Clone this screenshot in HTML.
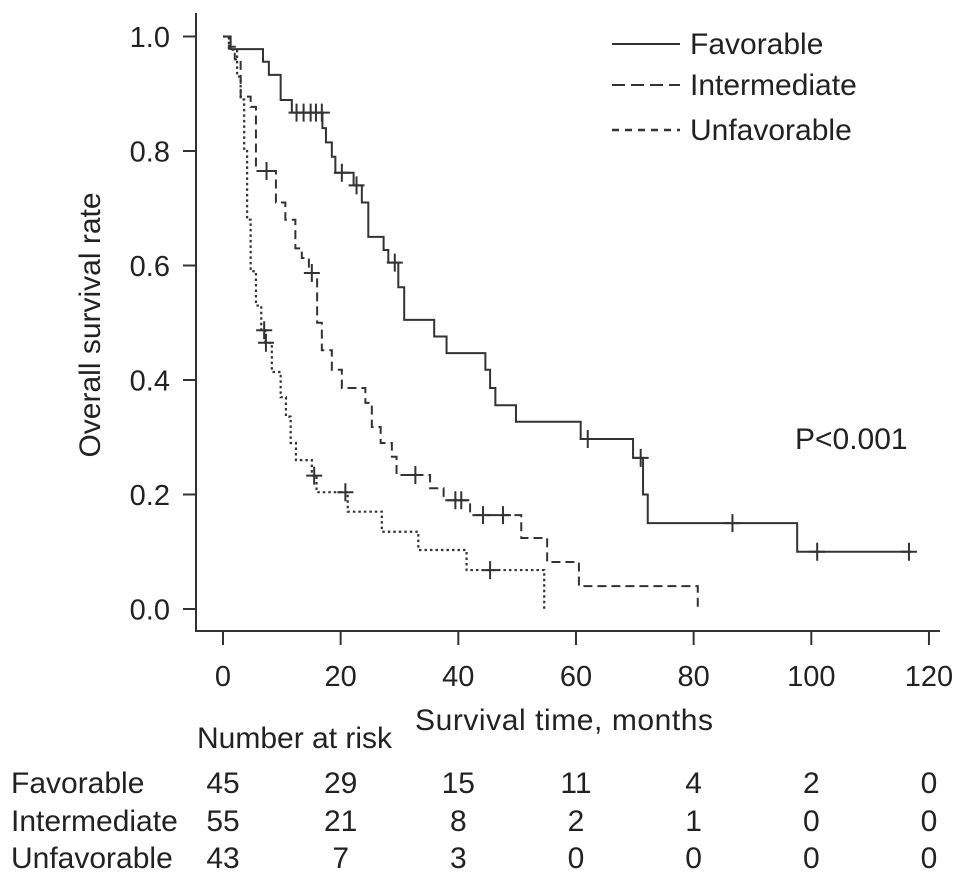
<!DOCTYPE html>
<html><head><meta charset="utf-8"><style>
body{margin:0;background:#fff}
svg{display:block;font-family:"Liberation Sans",Arial,sans-serif;fill:#222}
</style></head><body>
<svg id="chart" width="969" height="884" viewBox="0 0 969 884">
<g id="axes" stroke="#333" stroke-width="2" fill="none"></g>
<g id="labels"></g>
<g id="curves" fill="none"></g>
<g id="legend">
 <line x1="612" y1="44" x2="680" y2="44" stroke="#333" stroke-width="2"/>
 <text x="690" y="54" font-size="30">Favorable</text>
 <line x1="612" y1="85" x2="680" y2="85" stroke="#333" stroke-width="2" stroke-dasharray="13,6"/>
 <text x="690" y="95" font-size="30">Intermediate</text>
 <line x1="612" y1="130" x2="680" y2="130" stroke="#333" stroke-width="2.5" stroke-dasharray="7,6"/>
 <text x="690" y="140" font-size="30">Unfavorable</text>
</g>
<text x="795" y="449" font-size="30">P&lt;0.001</text>
<text x="100" y="325" font-size="30" text-anchor="middle" transform="rotate(-90 100 325)">Overall survival rate</text>
<text x="564" y="730" font-size="30" text-anchor="middle" textLength="298">Survival time, months</text>
<text x="197" y="748" font-size="30">Number at risk</text>
<g id="risk"></g>
</svg>
<script>
const xTicks=[0,20,40,60,80,100,120];
const yTicks=[0,0.2,0.4,0.6,0.8,1.0];
const favT=[1.3,6.8,7.8,9.8,11.7,16.9,17.5,18.5,19.1,22.2,23.6,24.7,27.3,28.1,29.8,30.8,35.9,38,44.6,45.4,46.3,49.8,60.8,69.7,71.4,72.2,97.6];
const favS=[0.978,0.956,0.933,0.889,0.867,0.84,0.815,0.79,0.762,0.74,0.71,0.65,0.627,0.605,0.562,0.505,0.476,0.447,0.418,0.386,0.356,0.327,0.297,0.264,0.2,0.15,0.10];
const favEnd=117;
const favCens=[12.5,13.7,14.9,15.8,16.8,20.2,22.7,29.2,62,71,86.6,101,116.6];
const intT=[1,2,3,4.7,5.6,9,10.6,12.3,13.4,14.6,16,16.8,18.5,20.2,24.2,25.3,26.8,28.7,29.5,35.2,37.5,42,50.7,55.1,60.5,80.7];
const intS=[0.982,0.96,0.895,0.877,0.765,0.71,0.68,0.63,0.613,0.587,0.5,0.452,0.418,0.386,0.36,0.318,0.29,0.266,0.234,0.211,0.19,0.164,0.124,0.082,0.04,0];
const intEnd=80.7;
const intCens=[7.4,15.1,32.7,39.5,40.5,44.2,47.6];
const unfT=[1,2.4,3,3.6,4.1,4.7,5.6,6.5,7.2,8.3,9.8,10.7,11.5,12.4,15.1,15.9,21.2,27,33.2,41.4,54.6];
const unfS=[0.977,0.93,0.89,0.8,0.68,0.59,0.53,0.487,0.465,0.414,0.37,0.336,0.29,0.26,0.233,0.204,0.17,0.135,0.103,0.068,0];
const unfEnd=54.6;
const unfCens=[7,7.3,15.5,20.8,45.4];
const riskGroups=["Favorable","Intermediate","Unfavorable"];
const riskFav=[45,29,15,11,4,2,0];
const riskInt=[55,21,8,2,1,0,0];
const riskUnf=[43,7,3,0,0,0,0];

const NS="http://www.w3.org/2000/svg";
const X=t=>223+t*5.883;
const Y=s=>609-s*572.5;
function mk(tag,attrs,parent){const e=document.createElementNS(NS,tag);for(const k in attrs)e.setAttribute(k,attrs[k]);parent.appendChild(e);return e;}
const axes=document.getElementById('axes'),labels=document.getElementById('labels'),curves=document.getElementById('curves'),risk=document.getElementById('risk');
let a=mk('line',{x1:196,y1:631,x2:940,y2:631},axes);


a=mk('line',{x1:196,y1:13,x2:196,y2:632},axes);


xTicks.forEach(t=>{
 const l=mk('line',{x1:X(t),y1:631,x2:X(t),y2:645},axes);
 
 
 const tx=mk('text',{x:X(t),y:686,'font-size':29,'text-anchor':'middle'},labels);tx.textContent=t;
 
 
});
yTicks.forEach(s=>{
 const l=mk('line',{x1:183,y1:Y(s),x2:196,y2:Y(s)},axes);
 
 
 const tx=mk('text',{x:170,y:Y(s)+10.5,'font-size':29,'text-anchor':'end'},labels);tx.textContent=s.toFixed(1);
 
 
});
function sAt(T,S,t){let v=1;for(let i=0;i<T.length;i++){if(T[i]<=t)v=S[i];}return v;}
function drawCurve(T,S,end,cens,dash,w,name){
 let d='M'+X(0)+','+Y(1);
 T.forEach((t,i)=>{d+=' H'+X(t)+' V'+Y(S[i]);});
 d+=' H'+X(end);
 const p=mk('path',{d:d,stroke:'#333','stroke-width':w,'stroke-dasharray':dash},curves);
 
 
 cens.forEach(t=>{
  const s=sAt(T,S,t),cx=X(t),cy=Y(s);
  const c=mk('path',{d:`M${cx-8},${cy} H${cx+8} M${cx},${cy-9} V${cy+9}`,stroke:'#333','stroke-width':2},curves);
  
  
 });
}
drawCurve(favT,favS,favEnd,favCens,'none',2,'favorable');
drawCurve(intT,intS,intEnd,intCens,'9,5',2,'intermediate');
drawCurve(unfT,unfS,unfEnd,unfCens,'2.5,3',2.2,'unfavorable');
const rows=[riskFav,riskInt,riskUnf],rowY=[793,831,868];
rows.forEach((r,i)=>{
 const lab=mk('text',{x:11,y:rowY[i],'font-size':30},risk);lab.textContent=riskGroups[i];
 
 
 r.forEach((v,j)=>{
  const tx=mk('text',{x:X(xTicks[j]),y:rowY[i],'font-size':30,'text-anchor':'middle'},risk);tx.textContent=v;
  
  
 });
});
</script>
</body></html>
